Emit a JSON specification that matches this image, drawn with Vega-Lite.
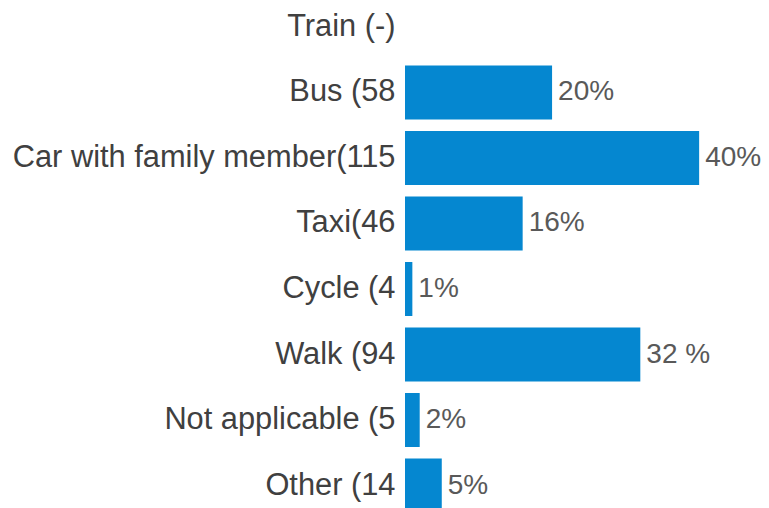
{
  "$schema": "https://vega.github.io/schema/vega-lite/v6.json",
  "autosize": "none",
  "padding": {"left": 405, "top": 0, "right": 0, "bottom": 0},
  "width": 364,
  "height": 512.5,
  "background": "white",
  "config": {"view": {"stroke": null}, "font": "Liberation Sans"},
  "data": {
    "values": [
      {"mode": "Train (-)", "pct": 0, "label": ""},
      {"mode": "Bus (58", "pct": 20, "label": "20%"},
      {"mode": "Car with family member(115", "pct": 40, "label": "40%"},
      {"mode": "Taxi(46", "pct": 16, "label": "16%"},
      {"mode": "Cycle (4", "pct": 1, "label": "1%"},
      {"mode": "Walk (94", "pct": 32, "label": "32 %"},
      {"mode": "Not applicable (5", "pct": 2, "label": "2%"},
      {"mode": "Other (14", "pct": 5, "label": "5%"}
    ]
  },
  "encoding": {
    "y": {
      "field": "mode",
      "type": "nominal",
      "sort": null,
      "scale": {"paddingInner": 0.176, "paddingOuter": 0},
      "axis": {
        "title": null,
        "domain": false,
        "ticks": false,
        "grid": false,
        "labelPadding": 10,
        "labelFontSize": 30.8,
        "labelColor": "#404040",
        "labelLimit": 0,
        "labelFont": "Liberation Sans"
      }
    },
    "x": {
      "field": "pct",
      "type": "quantitative",
      "scale": {"domain": [0, 49.5], "nice": false, "zero": true},
      "axis": null
    }
  },
  "layer": [
    {"mark": {"type": "bar", "color": "#0587d0"}},
    {
      "mark": {
        "type": "text",
        "align": "left",
        "baseline": "middle",
        "dx": 6,
        "fontSize": 28,
        "color": "#595959",
        "font": "Liberation Sans"
      },
      "encoding": {"text": {"field": "label"}}
    }
  ]
}
